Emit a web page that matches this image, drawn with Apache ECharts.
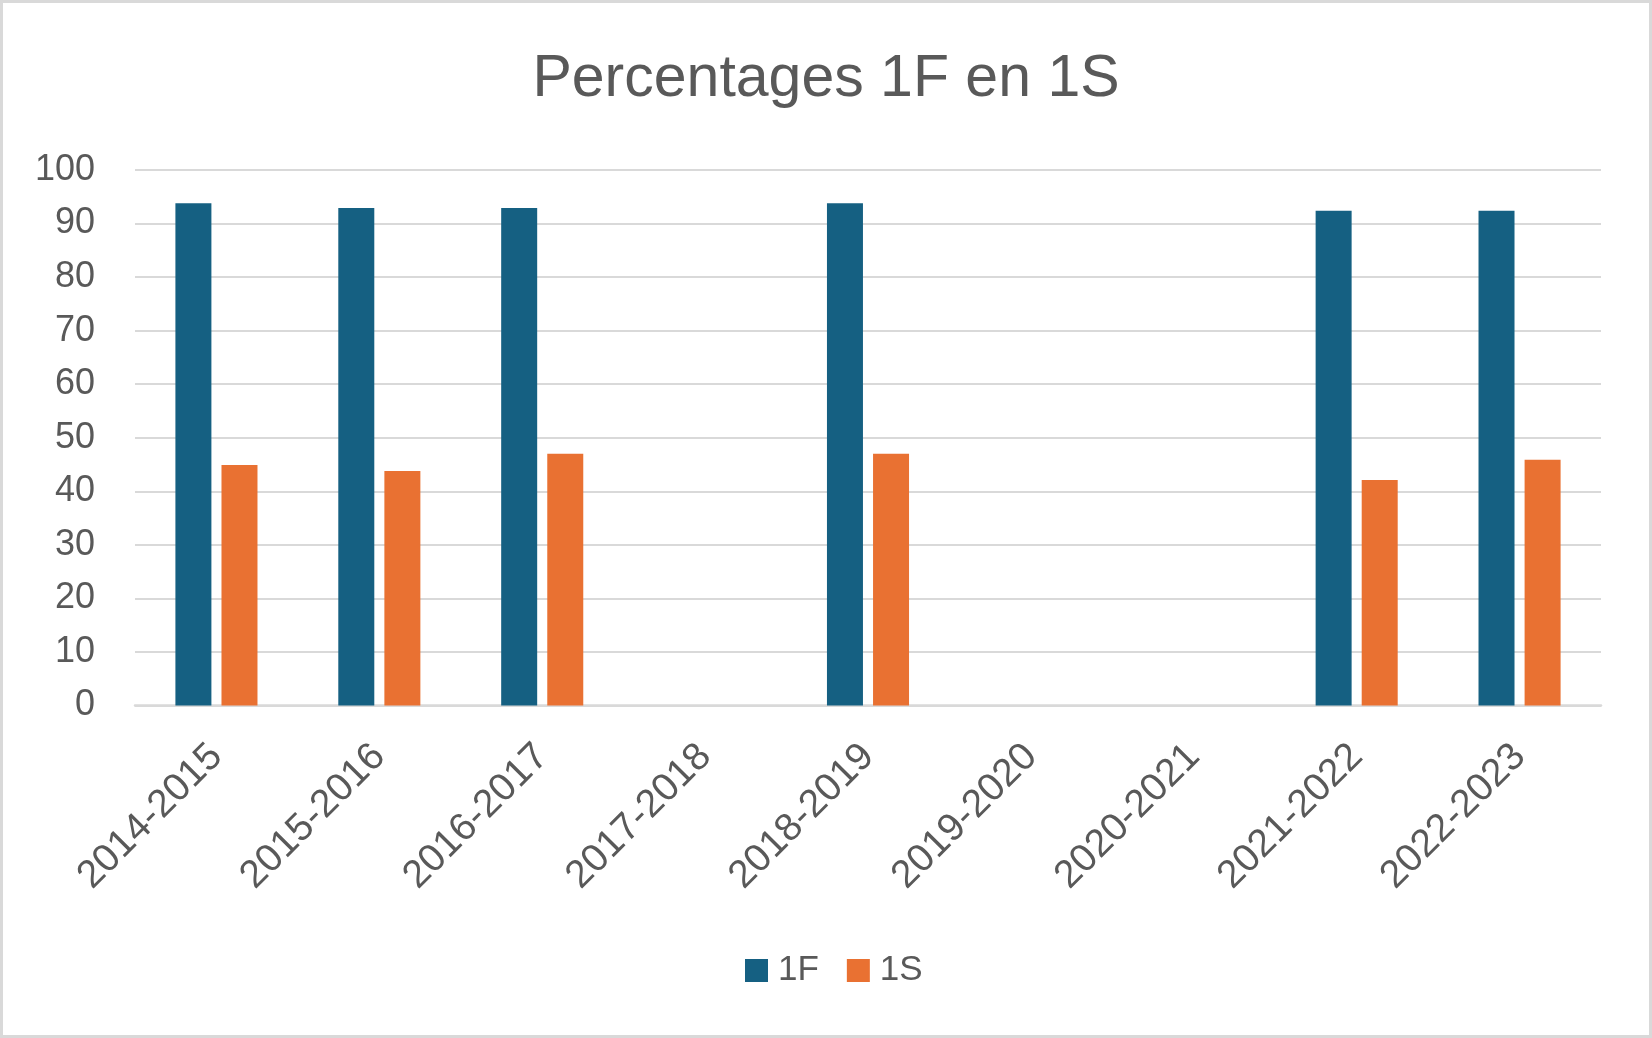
<!DOCTYPE html>
<html>
<head>
<meta charset="utf-8">
<script src="https://cdn.jsdelivr.net/npm/echarts@6/dist/echarts.min.js"></script>
<style>
html,body{margin:0;padding:0;background:#fff;}
#chart{width:1652px;height:1038px;}
</style>
</head>
<body>
<div id="chart"></div>
<script>
const categories = ['2014-2015','2015-2016','2016-2017','2017-2018','2018-2019','2019-2020','2020-2021','2021-2022','2022-2023'];
const series1F = [93.8, 92.9, 92.9, null, 93.8, null, null, 92.4, 92.4];
const series1S = [44.9, 43.8, 47.0, null, 47.0, null, null, 42.1, 45.9];
const yTicks = { min: 0, max: 100, interval: 10 };

const FONT = '"Liberation Sans", Arial, sans-serif';
const TEXT = '#595959';

const chart = echarts.init(document.getElementById('chart'), null, {renderer:'canvas'});
chart.setOption({
  backgroundColor: '#ffffff',
  animation: false,
  title: {
    text: 'Percentages 1F en 1S',
    left: 'center',
    top: 45,
    textStyle: { fontFamily: FONT, fontSize: 59, fontWeight: 'normal', color: TEXT }
  },
  legend: {
    data: ['1F','1S'],
    bottom: 50,
    left: 745,
    padding: 0,
    itemWidth: 23,
    itemHeight: 23,
    itemGap: 28,
    icon: 'rect',
    textStyle: { fontFamily: FONT, fontSize: 35, color: TEXT, padding: [0,0,0,5] }
  },
  grid: { left: 135, right: 51, top: 170, bottom: 332.5, containLabel: false },
  xAxis: {
    type: 'category',
    data: categories,
    axisLine: { lineStyle: { color: '#D9D9D9', width: 2.5 } },
    axisTick: { show: false },
    axisLabel: { rotate: 45, fontFamily: FONT, fontSize: 39, color: TEXT, margin: 45, interval: 0 }
  },
  yAxis: {
    type: 'value',
    min: yTicks.min, max: yTicks.max, interval: yTicks.interval,
    axisLine: { show: false },
    axisTick: { show: false },
    axisLabel: { fontFamily: FONT, fontSize: 36, color: TEXT, margin: 40 },
    splitLine: { lineStyle: { color: '#D9D9D9', width: 2 } }
  },
  series: [
    { name: '1F', type: 'bar', data: series1F, barWidth: 36, barGap: '28%', itemStyle: { color: '#156082' } },
    { name: '1S', type: 'bar', data: series1S, barWidth: 36, itemStyle: { color: '#E97132' } }
  ],
  graphic: [{
    type: 'rect', silent: true, z: 100,
    shape: { x: 1.5, y: 1.5, width: 1649, height: 1035 },
    style: { fill: 'none', stroke: '#D9D9D9', lineWidth: 3 }
  }]
});
</script>
</body>
</html>
